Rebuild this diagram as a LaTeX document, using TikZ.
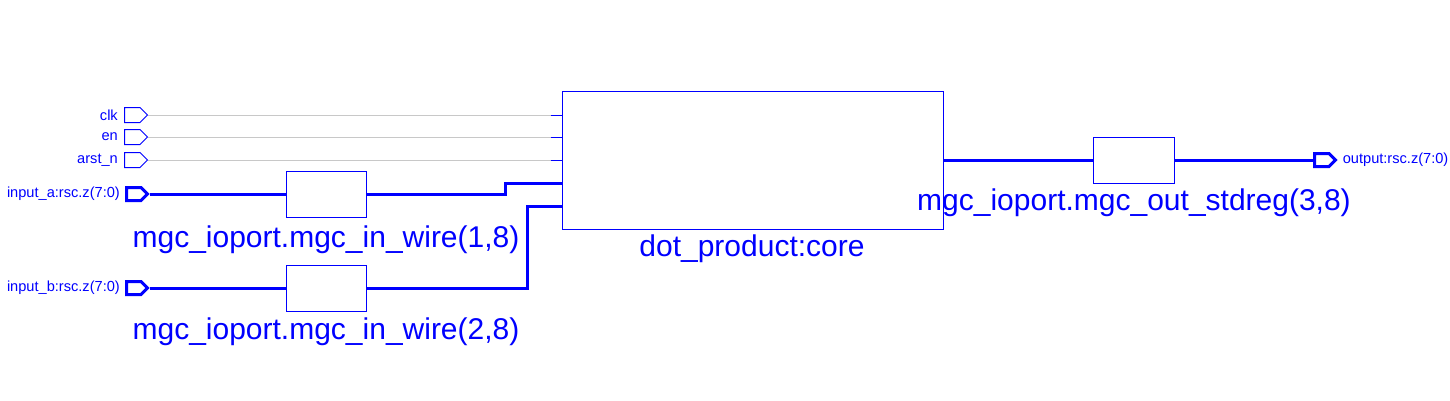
\documentclass[tikz,border=0pt]{standalone}
\usepackage{fontspec}
\setmainfont{Liberation Sans}
\usepackage{xcolor}
\usepackage{tikz}
\usetikzlibrary{positioning,shapes.symbols,calc}
\definecolor{netblue}{RGB}{0,0,255}
\definecolor{ctlgray}{RGB}{200,200,200}
\newcommand{\smallsz}{\fontsize{14.6}{16}\selectfont}
\newcommand{\bigsz}{\fontsize{30}{34}\selectfont}

\begin{document}
\begin{tikzpicture}[x=1pt,y=-1pt,
    blk/.style={draw=netblue,line width=1pt,minimum width=80pt,minimum height=46pt,inner sep=0pt},
    port/.style={draw=netblue,signal,signal to=east,minimum width=23pt,minimum height=15pt,inner sep=0pt,anchor=west},
    busport/.style={port,line width=3pt,minimum width=21pt,minimum height=13pt},
    ctlport/.style={port,line width=1pt},
    plab/.style={text=netblue,font=\smallsz,inner sep=0pt},
    blab/.style={text=netblue,font=\bigsz,inner sep=0pt,anchor=base},
    bus/.style={draw=netblue,line width=3pt},
    ctl/.style={draw=ctlgray,line width=1pt},
    stub/.style={draw=netblue,line width=1pt}]
  \useasboundingbox (0,0) rectangle (1450,400);
  % blocks
  \node[blk,minimum width=381pt,minimum height=138pt] (core) at (752.5,160) {};
  \node[blk] (inw1) at (326,194) {};
  \node[blk] (inw2) at (326,288) {};
  \node[blk,minimum width=81pt] (outreg) at (1133.5,160) {};
  \node[blab] at (326,247) {mgc\_ioport.mgc\_in\_wire(1,8)};
  \node[blab] at (326,339) {mgc\_ioport.mgc\_in\_wire(2,8)};
  \node[blab] at (752,256) {dot\_product:core};
  \node[blab] at (1134,210) {mgc\_ioport.mgc\_out\_stdreg(3,8)};
  % ports
  \node[ctlport] (pclk) at (124,115) {};
  \node[ctlport] (pen) at (124,137) {};
  \node[ctlport] (parst) at (124,160) {};
  \node[busport] (pina) at (125,194) {};
  \node[busport] (pinb) at (125,288) {};
  \node[busport] (pout) at (1313,160) {};
  \node[plab,left=6pt of pclk] {clk};
  \node[plab,left=6pt of pen] {en};
  \node[plab,left=6pt of parst] {arst\_n};
  \node[plab,left=5pt of pina] {input\_a:rsc.z(7:0)};
  \node[plab,left=5pt of pinb] {input\_b:rsc.z(7:0)};
  \node[plab,right=5pt of pout] {output:rsc.z(7:0)};
  % control nets
  \foreach \p in {pclk,pen,parst}{
    \draw[ctl] (\p.east) -- ([xshift=-11pt]core.west |- \p) coordinate (c-\p);
    \draw[stub] (c-\p) -- (core.west |- \p);
  }
  % data nets
  \draw[bus] (pina.east) -- (inw1.west);
  \draw[bus] (inw1.east) -- ++(139,0) |- ($(core.west)+(0,23)$);
  \draw[bus] (pinb.east) -- (inw2.west);
  \draw[bus] (inw2.east) -- ++(161,0) |- ($(core.west)+(0,46)$);
  \draw[bus] (core.east) -- (outreg.west);
  \draw[bus] (outreg.east) -- (pout.west);
\end{tikzpicture}
\end{document}
